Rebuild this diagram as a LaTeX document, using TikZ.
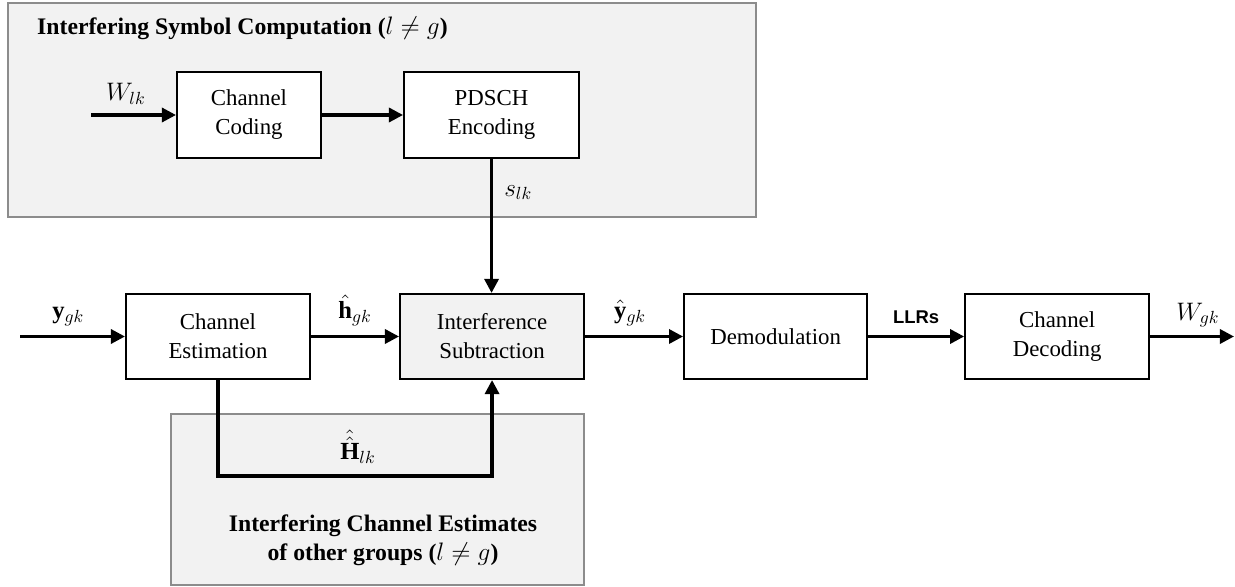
\documentclass[tikz,border=0pt]{standalone}
\usepackage{amsmath}
\usepackage{fontspec}
\setmainfont{Liberation Serif}
\newfontfamily\llrfont{Liberation Sans}
\usetikzlibrary{positioning,calc,arrows.meta}

\definecolor{groupfill}{HTML}{F2F2F2}
\definecolor{groupline}{HTML}{8C8C8C}

\begin{document}
\begin{tikzpicture}[
  x=0.02cm, y=-0.02cm,
  every node/.style={font=\fontsize{13}{16.5}\selectfont},
  block/.style={draw,line width=1.2pt,fill=white,align=center,minimum height=1.7cm,inner sep=2pt},
  group-box/.style={draw=groupline,fill=groupfill,line width=1.4pt},
  group-title/.style={font=\fontsize{13.5}{16.5}\selectfont\bfseries,align=center},
  sig-label/.style={font=\fontsize{14}{16}\selectfont},
  sig/.style={line width=1.8pt,-{Triangle[length=8pt,width=8pt]}},
  ]
  \useasboundingbox (0,0) rectangle (1235,587);

  % shaded groups
  \draw [group-box] (8,3) rectangle (756,217);
  \draw [group-box] (171,414) rectangle (584,585);
  \node [group-title,anchor=west] (sym-title) at (31,28) {Interfering Symbol Computation ($l\neq g$)};
  \node [group-title] (est-title) at (383,540) {Interfering Channel Estimates\\of other groups ($l\neq g$)};

  % interfering symbol branch
  \node [block,minimum width=2.88cm,minimum height=1.72cm] (ch-coding) at (249,115) {Channel\\Coding};
  \node [block,minimum width=3.5cm,minimum height=1.72cm,right=1.62cm of ch-coding] (pdsch-enc) {PDSCH\\Encoding};

  % main chain
  \node [block,minimum width=3.68cm] (ch-est) at (218,336.5) {Channel\\Estimation};
  \node [block,minimum width=3.68cm,fill=groupfill,right=1.76cm of ch-est] (int-sub) {Interference\\Subtraction};
  \node [block,minimum width=3.66cm,right=1.96cm of int-sub] (demod) {Demodulation};
  \node [block,minimum width=3.68cm,right=1.92cm of demod] (ch-dec) {Channel\\Decoding};

  \coordinate (wlk-in) at (91,115);
  \coordinate (ygk-in) at (20,336.5);
  \coordinate (wgk-out) at (1234,336.5);
  \coordinate (fb-turn) at (218,476);

  \draw [sig] (wlk-in) -- node [sig-label,above=2pt,pos=0.41] (wlk-label) {$W_{lk}$} (ch-coding);
  \draw [sig] (ch-coding) -- (pdsch-enc);
  \draw [sig] (pdsch-enc.south) -- node [sig-label,right=3pt,pos=0.25] (slk-label) {$s_{lk}$} (pdsch-enc.south |- int-sub.north);

  \draw [sig] (ygk-in) -- node [sig-label,above=2pt,pos=0.46] (ygk-label) {$\mathbf{y}_{gk}$} (ch-est);
  \draw [sig] (ch-est) -- node [sig-label,above=2pt] (hgk-label) {$\hat{\mathbf{h}}_{gk}$} (int-sub);
  \draw [sig] (int-sub) -- node [sig-label,above=2pt,pos=0.46] (yhat-label) {$\hat{\mathbf{y}}_{gk}$} (demod);
  \draw [sig] (demod) -- node [above=3pt] (llr-label) {\llrfont\bfseries\fontsize{10.5}{12}\selectfont LLRs} (ch-dec);
  \draw [sig] (ch-dec) -- node [sig-label,above=1pt,pos=0.57] (wgk-label) {$W_{gk}$} (wgk-out);

  % feedback of the other groups' estimates
  \draw [sig] (ch-est.south) -- (fb-turn) -| (int-sub.south);
  \node [sig-label] (hlk-label) at (358,447) {$\hat{\hat{\mathbf{H}}}_{lk}$};

\end{tikzpicture}
\end{document}
